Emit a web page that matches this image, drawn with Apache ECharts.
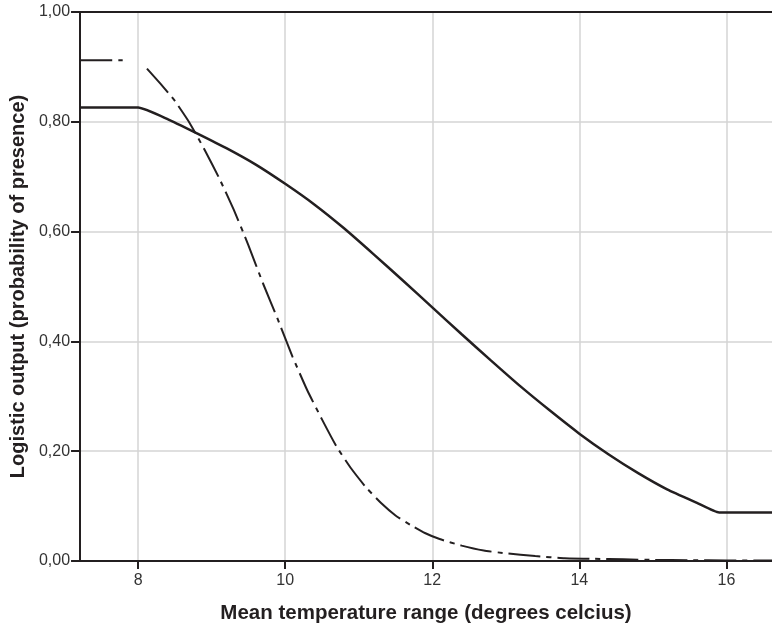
<!DOCTYPE html>
<html>
<head>
<meta charset="utf-8">
<script src="https://cdn.jsdelivr.net/npm/echarts@6/dist/echarts.min.js"></script>
<style>
html,body{margin:0;padding:0;background:#fff;}
#c{width:772px;height:630px;}
</style>
</head>
<body>
<div id="c"></div>
<script>
// ---- data ----
const xTicks = [8, 10, 12, 14, 16];
const yTicks = [0, 0.2, 0.4, 0.6, 0.8, 1.0];

const solidX = [7.21, 8.0, 8.4, 8.8, 9.2, 9.6, 10.0, 10.4, 10.8, 11.2, 11.6, 12.0, 12.4, 12.8, 13.2, 13.6, 14.0, 14.4, 14.8, 15.2, 15.6, 15.9, 16.62];
const solidY = [0.826, 0.826, 0.805, 0.779, 0.752, 0.722, 0.687, 0.649, 0.606, 0.559, 0.511, 0.462, 0.413, 0.365, 0.318, 0.274, 0.232, 0.194, 0.160, 0.130, 0.106, 0.0885, 0.0885];

// null marks the small break in the dash-dot curve just before x = 8
const dashX = [7.21, 7.79, null, 8.12, 8.3, 8.5, 8.7, 8.9, 9.1, 9.3, 9.5, 9.7, 9.9, 10.1, 10.3, 10.5, 10.7, 10.9, 11.1, 11.3, 11.5, 11.7, 11.9, 12.1, 12.4, 12.7, 13.0, 13.4, 13.8, 14.2, 14.6, 15.0, 15.5, 16.0, 16.62];
const dashY = [0.912, 0.912, null, 0.897, 0.870, 0.838, 0.798, 0.750, 0.698, 0.640, 0.575, 0.505, 0.440, 0.372, 0.311, 0.258, 0.208, 0.168, 0.134, 0.106, 0.083, 0.066, 0.051, 0.040, 0.028, 0.019, 0.014, 0.009, 0.005, 0.004, 0.003, 0.002, 0.0015, 0.001, 0.001];

const xName = 'Mean temperature range (degrees celcius)';
const yName = 'Logistic output (probability of presence)';

const xMin = 7.21, xMax = 16.62;

const zip = (xs, ys) => xs.map((x, i) => (x === null ? ['-', '-'] : [x, ys[i]]));

const chart = echarts.init(document.getElementById('c'), null, {renderer: 'canvas'});
const font = 'Liberation Sans, Arial, Helvetica, sans-serif';
chart.setOption({
  animation: false,
  backgroundColor: '#fff',
  grid: {left: 80, top: 12, right: -2, bottom: 69, containLabel: false},
  xAxis: [{
    type: 'value', min: xMin, max: xMax,
    position: 'bottom',
    name: xName, nameLocation: 'middle', nameGap: 42,
    nameTextStyle: {fontFamily: font, fontSize: 20.5, fontWeight: 'bold', color: '#231f20'},
    axisLine: {show: true, onZero: false, lineStyle: {color: '#231f20', width: 2}},
    axisTick: {show: true, customValues: xTicks, length: 8, lineStyle: {color: '#231f20', width: 2}},
    axisLabel: {customValues: xTicks, margin: 12, fontFamily: font, fontSize: 16, color: '#333'},
    splitLine: {show: true, lineStyle: {color: '#d4d4d4', width: 1.5}}
  }, {
    type: 'value', min: xMin, max: xMax,
    position: 'top',
    axisLine: {show: true, onZero: false, lineStyle: {color: '#231f20', width: 2}},
    axisTick: {show: false}, axisLabel: {show: false}, splitLine: {show: false}
  }],
  yAxis: {
    type: 'value', min: 0, max: 1, interval: 0.2,
    name: yName, nameLocation: 'middle', nameGap: 47, nameRotate: 90,
    nameTextStyle: {fontFamily: font, fontSize: 20, fontWeight: 'bold', color: '#231f20'},
    axisLine: {show: true, lineStyle: {color: '#231f20', width: 2}},
    axisTick: {show: true, length: 9, lineStyle: {color: '#231f20', width: 2}},
    axisLabel: {margin: 10, fontFamily: font, fontSize: 16, color: '#333',
      formatter: v => v.toFixed(2).replace('.', ',')},
    splitLine: {show: true, lineStyle: {color: '#d4d4d4', width: 1.5}}
  },
  series: [{
    type: 'line', data: zip(solidX, solidY), showSymbol: false, symbol: 'none',
    smooth: 0.15,
    lineStyle: {color: '#231f20', width: 2.5}
  }, {
    type: 'line', data: zip(dashX, dashY), showSymbol: false, symbol: 'none',
    smooth: 0.15, connectNulls: false,
    lineStyle: {color: '#231f20', width: 2, type: [32, 6, 5, 6]}
  }]
});
</script>
</body>
</html>
